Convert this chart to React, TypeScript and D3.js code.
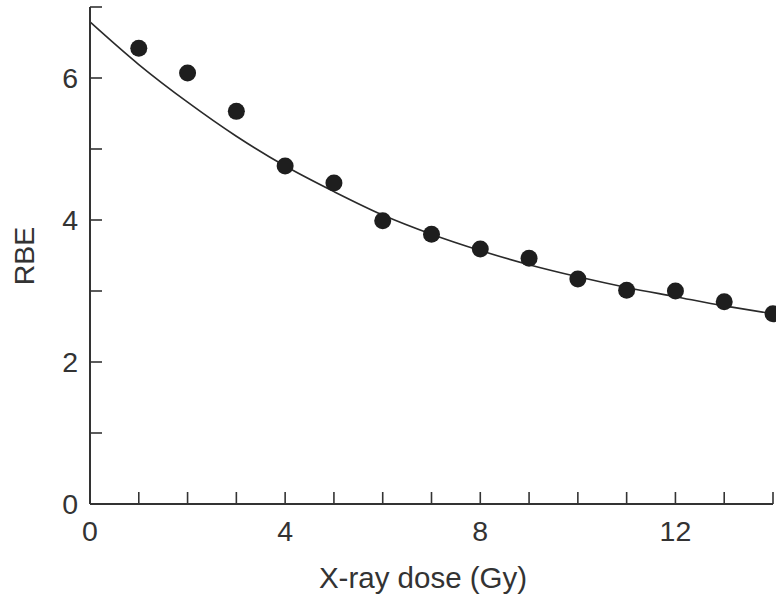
import React from "react";
import * as d3 from "d3";

const doses = [1, 2, 3, 4, 5, 6, 7, 8, 9, 10, 11, 12, 13, 14];
const rbeValues = [6.42, 6.07, 5.53, 4.76, 4.52, 3.99, 3.80, 3.59, 3.46, 3.17, 3.01, 3.0, 2.85, 2.68];
const fitDoses = [0, 1, 2, 3, 4, 5, 6, 7, 8, 9, 10, 11, 12, 13, 14];
const fitValues = [6.79, 6.19, 5.66, 5.18, 4.76, 4.40, 4.07, 3.80, 3.57, 3.37, 3.20, 3.05, 2.92, 2.79, 2.68];
const xTickLabels = [0, 4, 8, 12];
const yTickLabels = [0, 2, 4, 6];
const xMinorTicks = [1, 2, 3, 4, 5, 6, 7, 8, 9, 10, 11, 12, 13, 14];
const yMinorTicks = [1, 2, 3, 4, 5, 6, 7];

export default function App() {
  const W = 776, H = 594;
  const x = d3.scaleLinear().domain([0, 14]).range([90, 773]);
  const y = d3.scaleLinear().domain([0, 7]).range([504, 7]);
  const line = d3
    .line<number>()
    .x((_, i) => x(fitDoses[i]))
    .y((d) => y(d))
    .curve(d3.curveCatmullRom.alpha(0.5));
  const font = "'Liberation Sans', Arial, sans-serif";
  const ink = "#333";
  return (
    <svg
      width={W}
      height={H}
      style={{ position: "absolute", left: 0, top: 0, background: "#fff" }}
      fontFamily={font}
    >
      <path d={line(fitValues) || ""} fill="none" stroke="#2a2a2a" strokeWidth={1.6} />
      {doses.map((d, i) => (
        <circle key={i} cx={x(d)} cy={y(rbeValues[i])} r={8.5} fill="#1e1e1e" />
      ))}
      <line x1={x(0)} y1={y(0)} x2={x(14)} y2={y(0)} stroke={ink} strokeWidth={2} />
      <line x1={x(0)} y1={y(0)} x2={x(0)} y2={y(7)} stroke={ink} strokeWidth={2} />
      {xMinorTicks.map((t) => (
        <line key={"xt" + t} x1={x(t)} x2={x(t)} y1={y(0)} y2={y(0) - 12} stroke={ink} strokeWidth={1.6} />
      ))}
      {yMinorTicks.map((t) => (
        <line key={"yt" + t} x1={x(0)} x2={x(0) + 12} y1={y(t)} y2={y(t)} stroke={ink} strokeWidth={1.6} />
      ))}
      {xTickLabels.map((t) => (
        <text key={"xl" + t} x={x(t)} y={541} textAnchor="middle" fontSize={28.5} fill={ink}>
          {t}
        </text>
      ))}
      {yTickLabels.map((t) => (
        <text key={"yl" + t} x={78} y={y(t) + 10} textAnchor="end" fontSize={28.5} fill={ink}>
          {t}
        </text>
      ))}
      <text x={423} y={588} textAnchor="middle" fontSize={29.5} fill={ink}>
        X-ray dose (Gy)
      </text>
      <text
        transform={`translate(34,256) rotate(-90)`}
        textAnchor="middle"
        fontSize={28.5}
        fill={ink}
      >
        RBE
      </text>
    </svg>
  );
}
